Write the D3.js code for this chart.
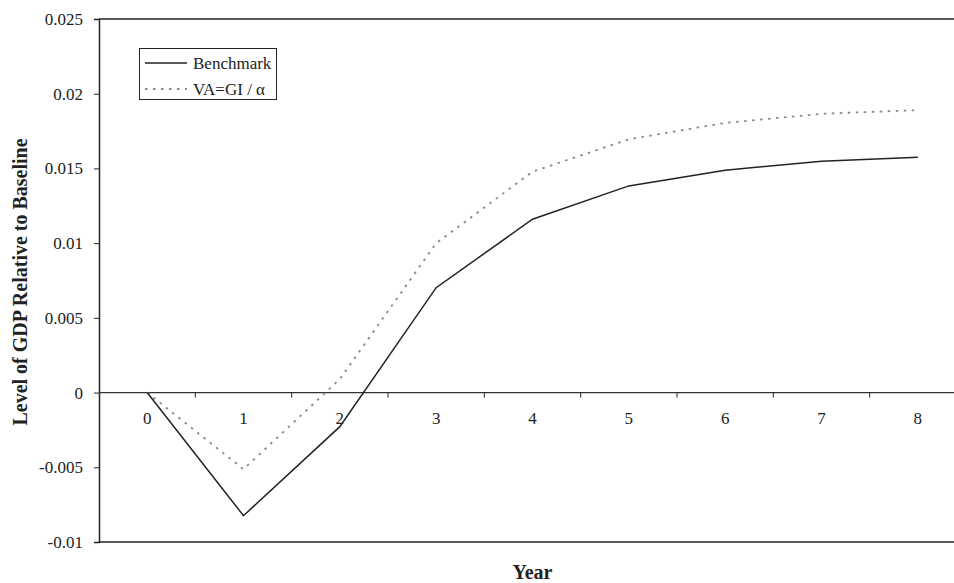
<!DOCTYPE html>
<html>
<head>
<meta charset="utf-8">
<script src="https://cdn.jsdelivr.net/npm/d3@7"></script>
<style>
  body { margin: 0; background: #fff; }
  svg { display: block; font-family: "Liberation Serif", "Times New Roman", serif; }
</style>
</head>
<body>
<svg id="chart" width="954" height="583"></svg>
<script>
// years on the x axis
const years = [0, 1, 2, 3, 4, 5, 6, 7, 8];
// level of GDP relative to baseline
const benchmark = [0, -0.00824, -0.00228, 0.00702, 0.0116, 0.01383, 0.01488, 0.01548, 0.01575];
const vaGi = [0, -0.00513, 0.0009, 0.0100, 0.01478, 0.01695, 0.01805, 0.01866, 0.0189];
const yTicks = [-0.01, -0.005, 0, 0.005, 0.01, 0.015, 0.02, 0.025];
const seriesNames = ["Benchmark", "VA=GI / \u03b1"];

const svg = d3.select("#chart");
const plotLeft = 99, plotTop = 19, plotBottom = 542, plotRight = 966;
const ink = "#222";

const x = d3.scaleBand().domain(years).range([plotLeft, plotRight]);
const y = d3.scaleLinear().domain([-0.01, 0.025]).range([plotBottom, plotTop]);

// frame: top and bottom edges of the plot area
svg.append("line")
  .attr("x1", plotLeft).attr("x2", 954).attr("y1", plotTop).attr("y2", plotTop)
  .attr("stroke", ink).attr("stroke-width", 1.5);
svg.append("line")
  .attr("x1", plotLeft).attr("x2", 954).attr("y1", plotBottom).attr("y2", plotBottom)
  .attr("stroke", ink).attr("stroke-width", 1.5);

// y axis
const yAxis = svg.append("g")
  .attr("transform", `translate(${plotLeft},0)`)
  .call(d3.axisLeft(y).tickValues(yTicks).tickSize(5).tickPadding(11)
    .tickFormat(d => d === 0 ? "0" : String(+d.toFixed(3))));
yAxis.select(".domain").attr("stroke", ink).attr("stroke-width", 1.5);
yAxis.selectAll(".tick line").attr("stroke", ink);
yAxis.selectAll(".tick text")
  .style("font-family", "Liberation Serif, serif")
  .style("font-size", "17px")
  .attr("fill", ink);

// x axis along zero, ticks between categories
const xAxis = svg.append("g").attr("transform", `translate(0,${y(0)})`);
xAxis.append("line")
  .attr("x1", plotLeft).attr("x2", 954)
  .attr("stroke", "#333").attr("stroke-width", 1.2);
xAxis.selectAll(".xtick")
  .data(years.slice(1))
  .join("line")
  .attr("class", "xtick")
  .attr("x1", d => x(d)).attr("x2", d => x(d))
  .attr("y1", 0).attr("y2", 5)
  .attr("stroke", ink);
xAxis.selectAll(".xlab")
  .data(years)
  .join("text")
  .attr("class", "xlab")
  .attr("x", d => x(d) + x.bandwidth() / 2)
  .attr("y", 25)
  .attr("dy", "0.35em")
  .attr("text-anchor", "middle")
  .style("font-size", "17px")
  .attr("fill", ink)
  .text(d => d);

// lines
const line = d3.line()
  .x((d, i) => x(years[i]) + x.bandwidth() / 2)
  .y(d => y(d));

svg.append("path")
  .datum(vaGi)
  .attr("d", line)
  .attr("fill", "none")
  .attr("stroke", "#888")
  .attr("stroke-width", 1.8)
  .attr("stroke-dasharray", "2.5,5.5");

svg.append("path")
  .datum(benchmark)
  .attr("d", line)
  .attr("fill", "none")
  .attr("stroke", ink)
  .attr("stroke-width", 1.5);

// legend
const legend = svg.append("g");
legend.append("rect")
  .attr("x", 139.5).attr("y", 48.5).attr("width", 137).attr("height", 51)
  .attr("fill", "#fff").attr("stroke", ink).attr("stroke-width", 1);
const legendItems = legend.selectAll(".leg")
  .data(seriesNames)
  .join("g")
  .attr("class", "leg")
  .attr("transform", (d, i) => `translate(145, ${63 + i * 26})`);
legendItems.append("line")
  .attr("x1", 0).attr("x2", 42)
  .attr("stroke", (d, i) => i === 0 ? ink : "#888")
  .attr("stroke-width", (d, i) => i === 0 ? 1.5 : 1.8)
  .attr("stroke-dasharray", (d, i) => i === 0 ? null : "2.5,5.5");
legendItems.append("text")
  .attr("x", 48)
  .attr("dy", "0.35em")
  .style("font-size", "17px")
  .attr("fill", ink)
  .text(d => d);

// axis titles
svg.append("text")
  .attr("x", x(4) + x.bandwidth() / 2)
  .attr("y", 579)
  .attr("text-anchor", "middle")
  .style("font-size", "20px")
  .style("font-weight", "bold")
  .attr("fill", ink)
  .text("Year");

svg.append("text")
  .attr("transform", "translate(27,282) rotate(-90)")
  .attr("text-anchor", "middle")
  .style("font-size", "20px")
  .style("font-weight", "bold")
  .attr("fill", ink)
  .text("Level of GDP Relative to Baseline");
</script>
</body>
</html>
